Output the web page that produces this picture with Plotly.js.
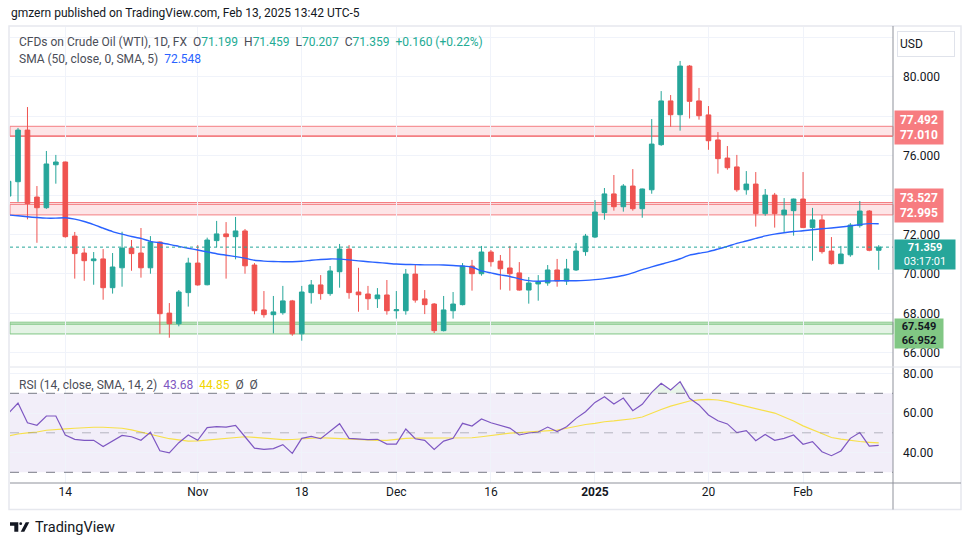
<!DOCTYPE html>
<html>
<head>
<meta charset="utf-8">
<script src="https://cdn.plot.ly/plotly-3.0.1.min.js"></script>
<style>html,body{margin:0;padding:0;background:#fff;}#chart{width:970px;height:545px;}</style>
</head>
<body>
<div id="chart"></div>
<script>
// ---------- DATA ----------
const dates = [
'2024-10-04','2024-10-07','2024-10-08','2024-10-09','2024-10-10','2024-10-11',
'2024-10-14','2024-10-15','2024-10-16','2024-10-17','2024-10-18',
'2024-10-21','2024-10-22','2024-10-23','2024-10-24','2024-10-25',
'2024-10-28','2024-10-29','2024-10-30','2024-10-31','2024-11-01',
'2024-11-04','2024-11-05','2024-11-06','2024-11-07','2024-11-08',
'2024-11-11','2024-11-12','2024-11-13','2024-11-14','2024-11-15',
'2024-11-18','2024-11-19','2024-11-20','2024-11-21','2024-11-22',
'2024-11-25','2024-11-26','2024-11-27','2024-11-28','2024-11-29',
'2024-12-02','2024-12-03','2024-12-04','2024-12-05','2024-12-06',
'2024-12-09','2024-12-10','2024-12-11','2024-12-12','2024-12-13',
'2024-12-16','2024-12-17','2024-12-18','2024-12-19','2024-12-20',
'2024-12-23','2024-12-24','2024-12-26','2024-12-27','2024-12-30','2024-12-31',
'2025-01-02','2025-01-03','2025-01-06','2025-01-07','2025-01-08','2025-01-09','2025-01-10',
'2025-01-13','2025-01-14','2025-01-15','2025-01-16','2025-01-17',
'2025-01-20','2025-01-21','2025-01-22','2025-01-23','2025-01-24',
'2025-01-27','2025-01-28','2025-01-29','2025-01-30','2025-01-31',
'2025-02-03','2025-02-04','2025-02-05','2025-02-06','2025-02-07',
'2025-02-10','2025-02-11','2025-02-12','2025-02-13'];

const open = [73.95,74.68,77.30,73.90,73.36,75.54,75.68,71.92,71.06,70.67,70.76,69.30,70.31,71.31,71.06,70.31,
71.62,68.01,67.47,69.05,70.55,69.45,71.69,72.03,71.89,72.18,70.45,68.17,67.93,68.03,68.63,66.96,69.05,69.44,69.00,70.11,
71.26,69.08,68.98,68.74,68.93,68.13,68.13,69.99,68.73,68.47,67.12,68.13,68.44,70.40,70.01,71.11,70.65,70.30,70.05,69.18,
69.49,69.54,70.20,69.64,70.20,71.13,71.87,73.11,74.06,73.41,74.46,73.31,74.27,76.56,78.78,78.08,80.55,78.78,
78.07,76.80,75.88,75.43,74.27,74.56,73.06,74.00,73.00,73.21,73.80,72.35,72.74,71.16,70.52,70.97,72.45,73.19,71.199];
const high = [74.80,77.41,78.47,74.46,76.24,76.04,75.70,72.13,71.30,71.11,71.26,71.06,72.14,71.72,72.33,71.92,
71.65,68.52,69.18,70.82,71.46,71.84,72.69,72.63,72.89,72.28,70.55,69.13,68.88,69.39,68.68,69.39,69.69,69.94,70.40,71.52,
71.46,70.31,69.39,69.28,69.69,69.13,70.25,70.50,69.18,68.52,68.88,69.08,70.55,70.71,71.42,71.21,70.96,71.42,70.60,69.84,
69.94,70.45,70.76,70.76,71.57,72.03,73.75,74.36,75.02,74.56,75.32,74.33,77.86,79.28,79.08,80.81,80.60,79.44,
78.52,77.20,76.49,76.04,75.22,75.17,74.31,74.11,73.85,73.82,75.17,73.35,72.99,71.87,71.42,72.58,73.70,73.24,71.459];
const low = [73.70,73.66,72.77,71.58,73.30,74.58,71.84,69.76,69.65,69.45,68.69,69.00,69.35,70.16,69.81,70.01,
66.96,66.76,67.34,68.34,69.40,69.42,71.35,69.76,70.74,70.01,67.95,67.78,66.98,67.93,66.86,66.61,68.49,68.69,68.89,69.30,
68.74,68.08,68.17,68.27,67.93,67.73,67.93,68.54,67.96,67.00,67.08,67.73,68.40,69.15,69.91,70.37,69.20,69.15,69.15,68.49,
68.64,69.40,69.35,69.44,70.15,70.92,71.82,72.75,73.21,73.16,73.21,72.85,74.07,76.50,77.47,77.27,77.89,77.83,
76.30,75.09,75.29,74.17,74.02,72.40,72.95,72.35,72.08,71.94,72.33,70.67,71.03,70.47,70.50,70.87,72.35,71.15,70.207];
const close = [74.70,77.30,73.57,73.36,75.58,75.68,71.89,71.03,70.67,70.76,69.30,70.35,71.31,71.03,70.31,71.62,
67.98,67.47,69.08,70.55,69.44,71.72,72.03,71.89,72.18,70.41,68.13,67.93,68.07,68.63,66.96,69.08,69.44,69.00,70.15,71.26,
69.05,68.94,68.74,68.93,68.13,68.18,69.99,68.67,68.44,67.12,68.17,68.47,70.40,70.01,71.11,70.62,70.26,70.01,69.18,69.54,
69.59,70.20,69.64,70.25,71.16,71.92,73.14,74.06,73.41,74.46,73.31,74.31,76.59,78.78,78.08,80.55,78.76,78.03,
76.76,75.85,75.39,74.27,74.56,73.06,74.00,73.06,73.24,73.80,72.35,72.74,71.13,70.52,71.01,72.48,73.19,71.199,71.359];

const sma50 = [72.99,72.95,72.90,72.86,72.83,72.83,72.85,72.78,72.66,72.50,72.32,72.15,72.02,71.90,71.80,71.65,
71.58,71.50,71.40,71.30,71.21,71.12,71.02,70.95,70.88,70.80,70.69,70.65,70.63,70.62,70.62,70.64,70.69,70.73,70.76,70.75,
70.71,70.66,70.62,70.58,70.54,70.50,70.48,70.47,70.46,70.46,70.45,70.43,70.40,70.35,70.15,70.05,69.95,69.87,69.75,69.66,
69.63,69.64,69.65,69.65,69.65,69.67,69.71,69.76,69.83,69.92,70.05,70.22,70.36,70.49,70.62,70.77,70.95,71.05,
71.13,71.26,71.40,71.55,71.67,71.80,71.93,72.02,72.09,72.15,72.19,72.24,72.29,72.33,72.38,72.44,72.50,72.55,72.548];

const rsi = [60.0,65.1,55.1,53.8,58.5,58.5,48.9,46.7,46.2,46.2,43.0,46.0,48.7,48.0,46.2,50.3,
40.9,39.8,45.0,48.9,46.2,52.6,53.1,52.9,53.8,48.0,42.2,41.6,42.0,44.0,39.6,47.2,48.2,47.0,50.9,54.6,
47.2,46.9,46.5,46.7,44.3,44.3,51.9,47.0,46.2,41.6,45.8,47.2,54.8,53.4,57.0,55.1,53.6,52.4,48.9,49.9,
50.4,52.9,50.6,53.1,57.3,60.7,65.4,68.3,64.6,67.6,61.2,64.4,70.5,75.1,71.7,75.9,67.5,64.1,
59.0,56.1,54.5,50.1,51.1,46.0,49.2,46.2,47.2,48.9,44.2,45.5,40.4,38.4,40.8,47.2,50.1,43.3,43.68];

const rsiMa = [48.4,49.4,50.0,50.4,51.3,51.8,52.0,52.3,52.6,52.8,52.8,52.6,52.3,51.5,50.4,49.2,
48.0,47.0,46.4,45.8,45.9,46.3,46.8,47.3,47.7,48.0,47.7,47.2,46.8,46.5,46.6,47.0,47.3,47.5,47.3,47.1,
46.8,46.5,46.2,46.2,46.2,46.8,47.2,47.3,47.3,47.2,47.2,47.2,47.3,47.5,48.0,48.7,49.3,49.8,50.1,50.4,
50.6,51.0,51.4,52.3,53.3,54.2,54.8,55.6,56.0,56.5,57.1,58.0,60.0,61.8,63.5,64.8,66.1,66.7,
66.9,66.6,65.8,64.5,63.3,62.0,61.1,60.0,58.2,56.0,53.5,51.5,49.6,47.6,46.8,46.1,45.6,45.2,44.85];

// price grid levels and their labels (labels hidden behind the level boxes are blank)
const priceTicks = [66,68,70,72,74,76,78,80,82];
const priceTickText = ['66.000','68.000','70.000','72.000','','76.000','','80.000',''];
const rsiTicks = [40,60,80];
const rsiTickText = ['40.00','60.00','80.00'];
const timeTickDates = ['2024-10-14','2024-11-01','2024-11-18','2024-12-02','2024-12-16','2025-01-02','2025-01-20','2025-02-03'];
const timeTickText = ['14','Nov','18','Dec','16','<b>2025</b>','20','Feb'];

const zoneUpper = [77.010, 77.492];
const zoneMiddle = [72.995, 73.527];
const zoneLower = [66.952, 67.549];
const lastPrice = 71.359;

// ---------- LAYOUT HELPERS (pixel -> paper) ----------
const M = {l:10, r:77, t:27, b:62};
const PW = 970 - M.l - M.r, PH = 545 - M.t - M.b;
const px = x => (x - M.l) / PW;
const py = y => (545 - M.b - y) / PH;

const GREEN = '#26a69a', RED = '#ef5350';
const FONT = 'Roboto, "Liberation Sans", Arial, sans-serif';

const traces = [
  {type:'candlestick', x:dates, open:open, high:high, low:low, close:close,
   xaxis:'x', yaxis:'y',
   increasing:{line:{color:GREEN, width:1}, fillcolor:GREEN},
   decreasing:{line:{color:RED, width:1}, fillcolor:RED},
   whiskerwidth:0, hoverinfo:'skip', showlegend:false},
  {type:'scatter', mode:'lines', x:dates, y:sma50, xaxis:'x', yaxis:'y',
   line:{color:'#2962ff', width:1.4, shape:'spline', smoothing:0.6}, hoverinfo:'skip', showlegend:false},
  {type:'scatter', mode:'lines', x:dates, y:rsi.map(() => 70), xaxis:'x', yaxis:'y2',
   line:{width:0, color:'rgba(0,0,0,0)'}, hoverinfo:'skip', showlegend:false},
  {type:'scatter', mode:'lines', x:dates, y:rsi.map(v => Math.max(v, 70)), xaxis:'x', yaxis:'y2',
   fill:'tonexty', fillcolor:'rgba(76,175,80,0.12)', line:{width:0, color:'rgba(0,0,0,0)'},
   hoverinfo:'skip', showlegend:false},
  {type:'scatter', mode:'lines', x:dates, y:rsiMa, xaxis:'x', yaxis:'y2',
   line:{color:'#f7e04b', width:1.2}, hoverinfo:'skip', showlegend:false},
  {type:'scatter', mode:'lines', x:dates, y:rsi, xaxis:'x', yaxis:'y2',
   line:{color:'#7e57c2', width:1.2}, hoverinfo:'skip', showlegend:false}
];

const shapes = [];
function zone(lv, fill, lineCol, extra){
  shapes.push({type:'rect', xref:'paper', x0:0, x1:1, yref:'y', y0:lv[0], y1:lv[1],
    fillcolor:fill, line:{color:lineCol, width:1}, layer:'below'});
  shapes.push({type:'line', xref:'paper', x0:0, x1:1, yref:'y', y0:extra, y1:extra,
    line:{color:lineCol, width:1.3}, layer:'below'});
}
zone(zoneUpper, 'rgba(242,54,69,0.13)', '#f47f83', zoneUpper[0] - 0.03);
zone(zoneMiddle, 'rgba(242,54,69,0.13)', '#f47f83', zoneMiddle[1] + 0.09);
zone(zoneLower, 'rgba(76,175,80,0.15)', '#81c784', zoneLower[1] - 0.1);
shapes.push({type:'line', xref:'paper', x0:0, x1:1, yref:'y', y0:lastPrice, y1:lastPrice,
  line:{color:GREEN, width:1, dash:'dot'}});
shapes.push({type:'rect', xref:'paper', x0:0, x1:1, yref:'y2', y0:30, y1:70,
  fillcolor:'rgba(126,87,194,0.10)', line:{width:0}, layer:'below'});
[70, 30].forEach(v => shapes.push({type:'line', xref:'paper', x0:0, x1:1, yref:'y2', y0:v, y1:v,
  line:{color:'#787b86', width:1, dash:'dash'}}));
shapes.push({type:'line', xref:'paper', x0:0, x1:1, yref:'y2', y0:50, y1:50,
  line:{color:'rgba(120,123,134,0.5)', width:1, dash:'dash'}});
shapes.push({type:'rect', xref:'paper', yref:'paper', x0:px(9), x1:px(961), y0:py(509.5), y1:py(26),
  line:{color:'#e6e8ee', width:1.5}, fillcolor:'rgba(0,0,0,0)'});
shapes.push({type:'line', xref:'paper', yref:'paper', x0:1, x1:1, y0:py(509.5), y1:py(26),
  line:{color:'#8f929b', width:1}});
shapes.push({type:'line', xref:'paper', yref:'paper', x0:0, x1:px(961), y0:0, y1:0,
  line:{color:'#8f929b', width:1}});
shapes.push({type:'line', xref:'paper', yref:'paper', x0:0, x1:px(961), y0:py(367), y1:py(367),
  line:{color:'#e0e3eb', width:1}});
function pathPx(pts){ return 'M' + pts.map(p => px(p[0]) + ',' + py(p[1])).join('L') + 'Z'; }
shapes.push({type:'path', xref:'paper', yref:'paper', path:pathPx([[10,522.3],[18.3,522.3],[18.3,531.7],[14.3,531.7],[14.3,525.7],[10,525.7]]),
  fillcolor:'#131722', line:{width:0}});
shapes.push({type:'circle', xref:'paper', yref:'paper', x0:px(19.3), x1:px(22.1), y0:py(525.1), y1:py(522.3),
  fillcolor:'#131722', line:{width:0}});
shapes.push({type:'path', xref:'paper', yref:'paper', path:pathPx([[20.7,531.7],[24.3,531.7],[29.3,522.3],[25.7,522.3]]),
  fillcolor:'#131722', line:{width:0}});

const ann = [];
function txt(x, y, text, size, color, extra){
  ann.push(Object.assign({xref:'paper', yref:'paper', x:px(x), y:py(y), xanchor:'left', yanchor:'middle',
    text:text, showarrow:false, font:{family:FONT, size:size, color:color}}, extra || {}));
}
const T = '#131722', G = '#4a4d57';
const sp = '\u00a0\u00a0';
txt(9, 13, 'gmzern published on TradingView.com, Feb 13, 2025 13:42 UTC-5', 12, T);
txt(17, 42, 'CFDs on Crude Oil (WTI), 1D, FX' + sp +
  'O<span style="color:#22ab94">71.199</span>' + sp +
  'H<span style="color:#22ab94">71.459</span>' + sp +
  'L<span style="color:#22ab94">70.207</span>' + sp +
  'C<span style="color:#22ab94">71.359</span>' + sp +
  '<span style="color:#22ab94">+0.160 (+0.22%)</span>', 12, G);
txt(17, 59, 'SMA (50, close, 0, SMA, 5)' + sp + '<span style="color:#2962ff">72.548</span>', 12, G);
txt(17, 385, 'RSI (14, close, SMA, 14, 2)' + sp + '<span style="color:#7e57c2">43.68</span>' + sp +
  '<span style="color:#f2d600">44.85</span>' + sp + 'Ø' + sp + 'Ø', 12, G);
txt(33, 527, 'TradingView', 14.5, T);

ann.push({xref:'paper', yref:'paper', x:px(897), y:py(44), xanchor:'left', yanchor:'middle',
  text:'USD', showarrow:false, font:{family:FONT, size:12, color:T},
  bgcolor:'#ffffff', bordercolor:'#e0e3eb', borderwidth:1, borderpad:2, width:52, height:20, align:'left'});
function plabel(yc, text, bg, color, w, h, fs){
  ann.push({xref:'paper', yref:'paper', x:1, y:py(yc), xanchor:'left', yanchor:'middle', xshift:1,
    text:text, showarrow:false, font:{family:FONT, size:fs, color:color},
    bgcolor:bg, borderpad:1, width:w, height:h, align:'center'});
}
plabel(127, '<b>' + zoneUpper[1].toFixed(3) + '</b><br><b>' + zoneUpper[0].toFixed(3) + '</b>', '#f77c80', '#ffffff', 46, 31, 12);
plabel(205.7, '<b>' + zoneMiddle[1].toFixed(3) + '</b><br><b>' + zoneMiddle[0].toFixed(3) + '</b>', '#f77c80', '#ffffff', 46, 31, 12);
plabel(254, '<b>' + lastPrice.toFixed(3) + '</b><br>03:17:01', GREEN, '#ffffff', 58, 27, 11);
plabel(333, '<b>' + zoneLower[1].toFixed(3) + '</b><br><b>' + zoneLower[0].toFixed(3) + '</b>', '#81c784', '#131722', 46, 27, 11);

const layout = {
  width:970, height:545, margin:M,
  paper_bgcolor:'#ffffff', plot_bgcolor:'#ffffff',
  font:{family:FONT, size:12, color:T},
  showlegend:false, hovermode:false, dragmode:false, boxgap:0.3,
  xaxis:{type:'category', anchor:'y2', range:[0.153, 93.51], tickvals:timeTickDates, ticktext:timeTickText,
    showgrid:true, gridcolor:'#f0f3fa', gridwidth:1, zeroline:false, showline:false, ticks:'',
    tickfont:{size:12, color:T}, rangeslider:{visible:false}, fixedrange:true},
  yaxis:{domain:[py(366), 1], range:[65.325, 82.533], side:'right', tickvals:priceTicks, ticktext:priceTickText,
    showgrid:true, gridcolor:'#f0f3fa', zeroline:false, showline:false, ticks:'', ticklabelstandoff:9,
    tickfont:{size:12, color:T}, fixedrange:true},
  yaxis2:{domain:[0, py(368)], range:[24.58, 82.81], side:'right', tickvals:rsiTicks, ticktext:rsiTickText,
    showgrid:true, gridcolor:'#f0f3fa', zeroline:false, showline:false, ticks:'', ticklabelstandoff:9,
    tickfont:{size:12, color:T}, fixedrange:true},
  shapes:shapes, annotations:ann
};

Plotly.newPlot('chart', traces, layout, {staticPlot:true, displayModeBar:false});
</script>
</body>
</html>
